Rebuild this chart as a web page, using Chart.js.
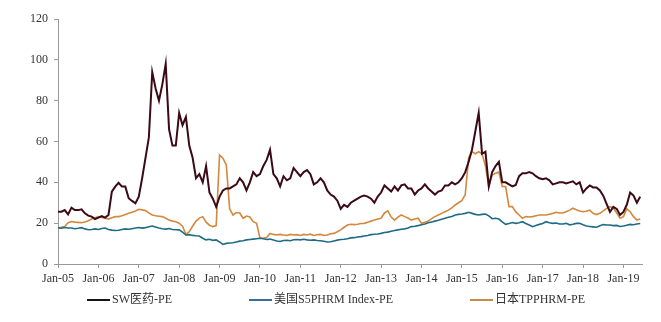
<!DOCTYPE html>
<html>
<head>
<meta charset="utf-8">
<script src="https://cdn.jsdelivr.net/npm/chart.js@4/dist/chart.umd.min.js"></script>
<style>
  html, body { margin: 0; padding: 0; background: #fff; }
  .wrap { width: 661px; height: 322px; }
</style>
</head>
<body>
<div class="wrap"><canvas id="pe"></canvas></div>
<script>
// monthly readings, Jan-05 .. Jun-19
const START_YEAR = 2005;

const swPE = [
  25.6, 25.6, 26.4, 24.3, 27.6, 26.4, 26.4, 26.8, 24.8, 23.7, 23.2, 22.0,
  22.7, 23.5, 22.7, 24.0, 35.4, 37.9, 39.8, 37.9, 37.9, 32.2, 30.9, 29.7,
  33.0, 42.0, 52.0, 62.0, 94.0, 86.0, 80.0, 88.0, 98.0, 66.0, 58.0, 58.0,
  74.0, 68.0, 72.0, 58.0, 52.0, 42.0, 44.0, 40.0, 48.0, 35.0, 32.0, 28.0,
  33.0, 36.0, 37.0, 37.0, 38.0, 39.0, 42.0, 40.0, 36.0, 40.0, 45.0, 43.0,
  44.0, 48.0, 51.0, 56.0, 44.0, 42.0, 38.0, 43.0, 41.0, 42.0, 47.0, 45.0,
  43.0, 45.0, 46.0, 44.0, 39.0, 40.0, 42.0, 40.0, 36.0, 34.0, 33.0, 31.0,
  27.0, 29.0, 28.0, 30.0, 31.0, 32.0, 33.0, 33.5, 33.0, 32.0, 30.0, 33.0,
  35.0, 38.5, 37.0, 35.5, 38.0, 36.0, 38.5, 39.0, 37.0, 37.0, 34.0, 36.0,
  37.0, 39.0, 37.0, 35.5, 34.0, 35.5, 36.0, 38.5, 38.5, 40.0, 39.0, 40.0,
  42.0, 45.0, 50.0, 56.0, 65.0, 74.0, 54.0, 55.0, 38.0, 45.0, 48.0, 50.0,
  40.0, 40.0, 39.0, 38.0, 38.7, 43.0, 44.4, 44.4, 45.0, 44.4, 43.0, 42.0,
  41.5, 42.0, 41.0, 39.0, 39.5, 40.0, 40.0, 39.5, 40.0, 40.5, 39.0, 40.0,
  35.0, 37.0, 38.5, 37.5, 37.5, 36.0, 33.5, 29.5, 25.5, 28.0, 27.0, 24.0,
  25.5, 29.0, 35.0, 33.5, 30.0, 33.0
];

const usPE = [
  17.8, 17.5, 17.9, 17.6, 17.6, 17.3, 17.5, 17.8, 17.2, 16.8, 16.9, 17.2,
  16.9, 17.4, 17.6, 16.9, 16.6, 16.4, 16.5, 16.9, 17.2, 17.0, 17.3, 17.6,
  17.9, 17.6, 17.8, 18.2, 18.6, 18.1, 17.6, 17.3, 17.1, 17.4, 16.9, 16.8,
  16.7, 15.6, 14.2, 14.4, 14.0, 13.8, 13.7, 12.6, 11.8, 12.1, 11.6, 11.8,
  10.8, 9.6, 10.1, 10.3, 10.4, 10.8, 11.2, 11.4, 11.8, 12.0, 12.2, 12.4,
  12.6, 12.4, 12.0, 12.2, 11.8, 11.3, 11.0, 11.5, 11.6, 11.4, 11.9, 12.0,
  11.8, 12.1, 11.8, 11.6, 11.8, 11.5, 11.4, 11.1, 10.8, 10.9, 11.3, 11.7,
  12.0, 12.1, 12.4, 12.8, 12.9, 13.2, 13.4, 13.7, 14.0, 14.4, 14.6, 14.7,
  15.0, 15.4, 15.6, 16.0, 16.4, 16.7, 17.0, 17.2, 17.6, 18.3, 18.5, 18.8,
  19.2, 19.6, 20.2, 20.6, 21.0, 21.4, 21.9, 22.4, 22.9, 23.3, 24.0, 24.3,
  24.5, 24.8, 25.3, 24.8, 24.3, 24.0, 24.3, 24.5, 23.6, 22.2, 22.4, 22.0,
  20.6, 19.4, 19.8, 20.3, 19.9, 20.2, 20.7, 19.8, 19.1, 18.3, 18.9, 19.4,
  19.8, 20.7, 20.2, 19.9, 20.1, 19.6, 19.6, 19.9, 19.2, 19.5, 19.9, 19.9,
  19.2, 18.6, 18.4, 18.2, 18.0, 18.7, 19.3, 19.1, 19.1, 18.8, 18.9, 18.4,
  18.6, 19.0, 19.4, 19.2, 19.6, 19.8
];

const jpPE = [
  17.5, 18.0, 18.4, 20.2, 20.8, 20.5, 20.4, 20.2, 20.6, 21.2, 22.0, 22.6,
  23.2, 22.8, 22.4, 22.0, 22.6, 23.2, 23.2, 23.6, 24.2, 24.8, 25.4, 26.0,
  26.8, 26.5, 26.2, 25.0, 24.0, 23.6, 23.4, 23.2, 22.4, 21.5, 21.0, 20.7,
  20.0, 18.5, 14.5, 15.8, 18.5, 21.0, 22.5, 23.2, 20.5, 19.0, 18.3, 18.8,
  53.4, 51.8, 48.5, 27.0, 24.0, 25.2, 25.0, 22.4, 23.5, 23.0, 20.7, 19.9,
  12.8, 12.6, 13.0, 15.0, 14.5, 14.2, 14.5, 14.2, 14.0, 14.5, 14.2, 14.4,
  14.0, 14.5, 14.2, 14.6, 14.0, 14.3, 14.5, 14.0, 14.2, 14.8, 15.0, 15.8,
  16.7, 18.0, 19.1, 19.5, 19.3, 19.5, 19.8, 19.9, 20.5, 21.0, 21.5, 22.0,
  22.4, 25.0, 26.0, 23.0, 21.5, 23.0, 24.0, 23.2, 22.5, 21.5, 22.0, 22.4,
  19.9, 20.5, 21.0, 22.2, 23.2, 24.0, 24.8, 25.6, 26.4, 27.5, 28.9, 30.0,
  31.0, 34.0, 52.0, 55.0, 54.0, 55.0, 54.0, 48.0, 38.0, 43.6, 44.4, 45.0,
  38.0, 37.9, 28.1, 28.1, 25.5, 24.0, 22.4, 23.2, 23.0, 23.2, 23.6, 24.0,
  24.0, 24.0, 24.4, 24.8, 25.3, 25.0, 25.0, 25.6, 26.4, 27.3, 26.6, 26.0,
  25.6, 25.8, 26.4, 24.8, 24.2, 24.8, 26.0, 27.2, 28.1, 27.5, 25.0, 22.4,
  23.2, 27.0, 25.6, 23.2, 21.5, 22.0
];

const seriesNames = ["SW医药-PE", "美国S5PHRM Index-PE", "日本TPPHRM-PE"];
const yTicks = [0, 20, 40, 60, 80, 100, 120];
const xTickYears = [2005, 2006, 2007, 2008, 2009, 2010, 2011, 2012, 2013, 2014, 2015, 2016, 2017, 2018, 2019];

const FONT = "'Liberation Serif', 'Times New Roman', 'Noto Sans CJK SC', serif";

function toPoints(arr) {
  return arr.map((v, i) => ({ x: START_YEAR + i / 12, y: v }));
}

// legend drawn by hand: the built-in one pads vertically as much as it spaces items
const bottomLegend = {
  id: "bottomLegend",
  afterDraw(chart) {
    const ctx = chart.ctx;
    const y = 300;
    let x = 87;
    ctx.save();
    ctx.font = "12px " + FONT;
    ctx.textBaseline = "middle";
    ctx.textAlign = "left";
    chart.data.datasets.forEach(ds => {
      ctx.strokeStyle = ds.legendColor;
      ctx.lineWidth = 2;
      ctx.beginPath();
      ctx.moveTo(x, y);
      ctx.lineTo(x + 23, y);
      ctx.stroke();
      x += 25;
      ctx.fillStyle = "#333";
      ctx.fillText(ds.label, x, y);
      x += ctx.measureText(ds.label).width + 77;
    });
    ctx.restore();
  }
};

new Chart(document.getElementById("pe").getContext("2d"), {
  type: "line",
  data: {
    datasets: [
      {
        label: seriesNames[0],
        data: toPoints(swPE),
        borderColor: "#3a0a16",
        legendColor: "#151515",
        borderWidth: 2,
      }, {
        label: seriesNames[1],
        data: toPoints(usPE),
        borderColor: "#1f6b86",
        legendColor: "#3a6e98",
        borderWidth: 1.6,
      }, {
        label: seriesNames[2],
        data: toPoints(jpPE),
        borderColor: "#d3883d",
        legendColor: "#c98a4a",
        borderWidth: 1.6,
      },
    ]
  },
  plugins: [bottomLegend],
  options: {
    responsive: true,
    maintainAspectRatio: false,
    animation: { duration: 0 },
    elements: {
      point: { radius: 0 },
      line: { tension: 0 }
    },
    layout: {
      padding: { top: 19, right: 19, bottom: 32, left: 0 }
    },
    plugins: {
      tooltip: { enabled: false },
      legend: { display: false }
    },
    scales: {
      x: {
        type: "linear",
        min: 2005,
        max: 2019.46,
        afterBuildTicks: axis => {
          axis.ticks = xTickYears.map(v => ({ value: v }));
        },
        afterFit: scale => { scale.height = 26; },
        ticks: {
          autoSkip: false,
          maxRotation: 0,
          padding: 4,
          color: "#333",
          font: { family: FONT, size: 12 },
          callback: v => "Jan-" + String(Math.round(v) % 100).padStart(2, "0"),
        },
        grid: { display: true, drawOnChartArea: false, tickLength: 4, color: "#999" },
        border: { display: true, color: "#999" },
      },
      y: {
        min: 0,
        max: 120,
        afterBuildTicks: axis => {
          axis.ticks = yTicks.map(v => ({ value: v }));
        },
        afterFit: scale => { scale.width = 58; },
        ticks: {
          padding: 6,
          color: "#333",
          font: { family: FONT, size: 12 },
        },
        grid: { display: true, drawOnChartArea: false, tickLength: 4, color: "#999" },
        border: { display: true, color: "#999" },
      }
    }
  }
});
</script>
</body>
</html>
